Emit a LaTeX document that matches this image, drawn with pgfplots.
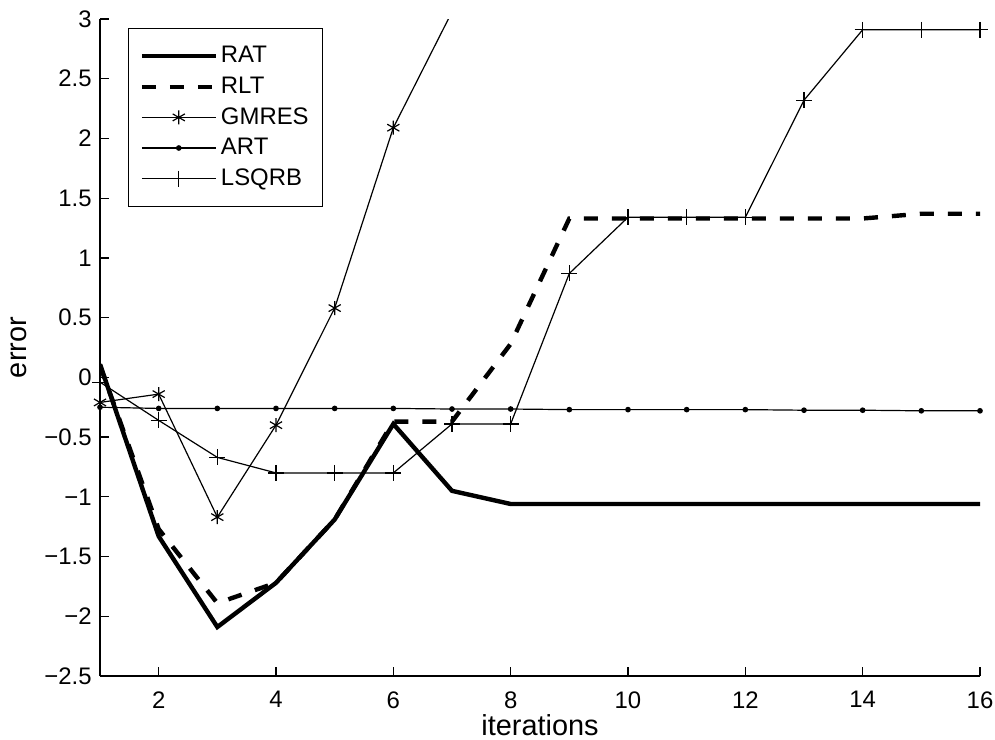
\documentclass[border=0pt]{standalone}
\usepackage{pgfplots}
\pgfplotsset{compat=1.18}
\usepackage{fontspec}
\setmainfont{Liberation Sans}
\usetikzlibrary{plotmarks}
\begin{document}
\fontsize{12}{14}\selectfont
\begin{tikzpicture}
\path[use as bounding box] (-50bp,-32bp) rectangle (447.5bp,338bp);
\begin{axis}[
  at={(0,0)}, anchor=south west,
  scale only axis, width=440bp, height=328.5bp,
  xmin=1, xmax=16, ymin=-2.5, ymax=3,
  axis x line*=bottom, axis y line*=left,
  axis line style={-, line width=0.6bp},
  tick pos=left,
  tick align=inside, major tick length=4.5bp,
  tick style={line width=0.6bp, black},
  xtick={2,4,6,8,10,12,14,16},
  ytick={-2.5,-2,-1.5,-1,-0.5,0,0.5,1,1.5,2,2.5,3},
  yticklabels={−2.5,−2,−1.5,−1,−0.5,0,0.5,1,1.5,2,2.5,3},
  /pgf/number format/assume math mode=true,
  ticklabel style={font=\fontsize{12}{14}\selectfont},
  xticklabel style={yshift=-3.5bp},
  xlabel={iterations}, ylabel={error},
  label style={font=\fontsize{14.5}{16}\selectfont},
  xlabel style={at={(axis description cs:0.5,-0.0755)}, anchor=center},
  ylabel style={at={(axis description cs:-0.092,0.5)}, anchor=center},
  legend style={at={(axis description cs:0.0318,0.9863)}, anchor=north west,
    draw=black, line width=0.6bp, font=\fontsize{12}{14}\selectfont,
    nodes={text height=8.6bp, text depth=2bp, inner ysep=0bp, inner xsep=1.5bp},
    row sep=4.7bp, inner xsep=5.5bp, inner ysep=8.5bp, cells={anchor=west}},
  legend image code/.code={\draw[mark repeat=2,mark phase=2] plot coordinates {(0bp,0bp) (18.5bp,0bp) (37bp,0bp)};},
  clip=true,
]
\addplot[black, line width=2.2bp, line join=miter, no marks] coordinates {
(1,0.11) (2,-1.33) (3,-2.09) (4,-1.72) (5,-1.19) (6,-0.39) (7,-0.95) (8,-1.06)
(9,-1.06) (10,-1.06) (11,-1.06) (12,-1.06) (13,-1.06) (14,-1.06) (15,-1.06) (16,-1.06)};
\addlegendentry{RAT}
\addplot[black, line width=2.2bp, dash pattern=on 7bp off 7bp, no marks] coordinates {
(1,0.1) (2,-1.27) (3,-1.89) (4,-1.72) (5,-1.19) (6,-0.37) (7,-0.37) (8,0.28)
(9,1.33) (10,1.33) (11,1.33) (12,1.33) (13,1.33) (14,1.33) (15,1.37) (16,1.37)};
\addlegendentry{RLT}
\addplot[black, line width=0.6bp, mark=asterisk, mark size=3.5bp, mark options={line width=0.6bp}] coordinates {
(1,-0.21) (2,-0.14) (3,-1.17) (4,-0.40) (5,0.58) (6,2.09) (7,3.06) (8,4.0)};
\addlegendentry{GMRES}
\addplot[black, line width=0.6bp, mark=*, mark size=1.1bp] coordinates {
(1,-0.25) (2,-0.26) (3,-0.26) (4,-0.26) (5,-0.26) (6,-0.26) (7,-0.265) (8,-0.265)
(9,-0.27) (10,-0.27) (11,-0.27) (12,-0.27) (13,-0.275) (14,-0.275) (15,-0.28) (16,-0.28)};
\addlegendentry{ART}
\addplot[black, line width=0.6bp, mark=+, mark size=4bp, mark options={line width=0.6bp}] coordinates {
(1,-0.04) (2,-0.36) (3,-0.67) (4,-0.80) (5,-0.80) (6,-0.80) (7,-0.39) (8,-0.39)
(9,0.87) (10,1.34) (11,1.34) (12,1.34) (13,2.32) (14,2.91) (15,2.91) (16,2.91)};
\addlegendentry{LSQRB}
\end{axis}
\end{tikzpicture}
\end{document}
